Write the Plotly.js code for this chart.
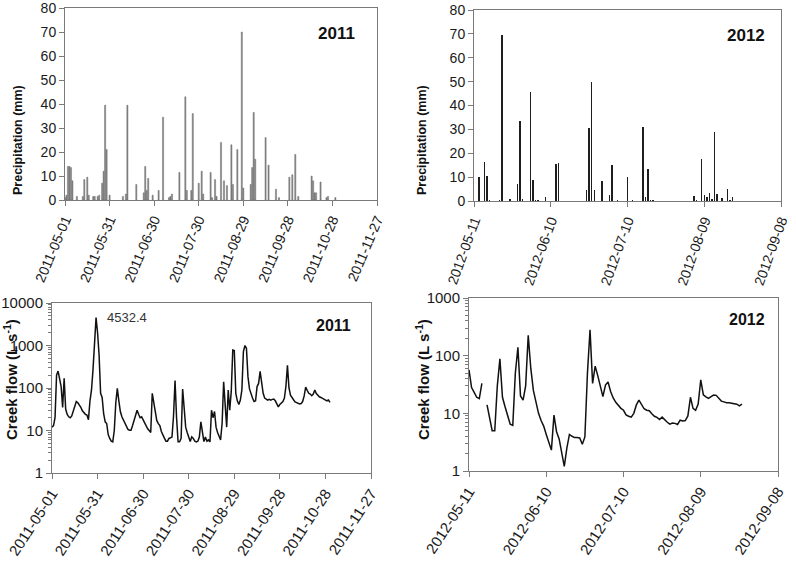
<!DOCTYPE html>
<html>
<head>
<meta charset="utf-8">
<script src="https://cdn.plot.ly/plotly-3.0.1.min.js"></script>
<style>
html,body{margin:0;padding:0;background:#fff;}
#chart{width:796px;height:566px;}
</style>
</head>
<body>
<div id="chart"></div>
<script>
// ---- Precipitation 2011 (mm) ----
const precip2011Dates = ['2011-05-01','2011-05-02','2011-05-03','2011-05-04','2011-05-05','2011-05-06','2011-05-09','2011-05-13','2011-05-14','2011-05-16',
  '2011-05-17','2011-05-20','2011-05-21','2011-05-23','2011-05-24','2011-05-26','2011-05-27','2011-05-28','2011-05-29','2011-05-31',
  '2011-06-09','2011-06-11','2011-06-12','2011-06-18','2011-06-23','2011-06-24','2011-06-25','2011-06-26','2011-06-29','2011-07-03',
  '2011-07-06','2011-07-10','2011-07-11','2011-07-12','2011-07-17','2011-07-21','2011-07-22','2011-07-25','2011-07-26','2011-07-30',
  '2011-08-01','2011-08-02','2011-08-07','2011-08-08','2011-08-10','2011-08-11','2011-08-14','2011-08-16','2011-08-18','2011-08-21',
  '2011-08-22','2011-08-25','2011-08-28','2011-08-29','2011-09-03','2011-09-04','2011-09-05','2011-09-06','2011-09-13','2011-09-15',
  '2011-09-20','2011-09-22','2011-09-29','2011-10-01','2011-10-03','2011-10-05','2011-10-14','2011-10-15','2011-10-16','2011-10-17',
  '2011-10-20','2011-10-24','2011-10-25','2011-10-30'];
const precip2011Values = [1,2,14,14,13.5,8,1.5,1.5,8.5,9.5,
  2,1.5,1.5,1.5,2,7,12,39.5,21,2,
  1.5,2.5,39.5,6.5,3,14,4,9,2,4,
  34.5,1,1.5,2.5,11.5,43,4,4,36,7,
  12,2.5,11.5,1,8.5,1.5,24,8,6,23,
  6.5,21,70,5,6.5,13.5,36.5,17,26,14.5,
  4.5,1,9.5,10.5,19,1.5,10,8,3,3,
  7.5,1,1.5,1];

// ---- Precipitation 2012 (mm) ----
const precip2012Dates = ['2012-05-13','2012-05-15','2012-05-16','2012-05-17','2012-05-21','2012-05-22','2012-05-25','2012-05-28','2012-05-29','2012-05-30',
  '2012-06-02','2012-06-03','2012-06-04','2012-06-05','2012-06-08','2012-06-12','2012-06-13','2012-06-24','2012-06-25','2012-06-26',
  '2012-06-27','2012-06-30','2012-07-03','2012-07-04','2012-07-06','2012-07-10','2012-07-12','2012-07-16','2012-07-17','2012-07-18',
  '2012-07-19','2012-07-20','2012-08-03','2012-08-04','2012-08-05','2012-08-06','2012-08-08','2012-08-09','2012-08-10','2012-08-11',
  '2012-08-12','2012-08-13','2012-08-14','2012-08-16','2012-08-18','2012-08-19','2012-08-20','2012-08-22','2012-08-23','2012-08-24',
  '2012-08-25'];
const precip2012Values = [10,16.5,10.5,0.5,0.5,69.5,1,7,33.5,1,
  45.5,9,0.5,0.5,1.8,15.5,16,4.5,30.5,49.8,
  4.5,8.5,2.5,15,0.3,10.2,0.5,31,1.8,13.5,
  0.5,0.3,0.2,0.2,2,0.5,17.8,2.7,1.8,3.5,
  1,29,3,1.3,5,0.5,1.5,0.2,0.2,0.2,
  0.2];

// ---- Creek flow 2011 (L/s), daily from 2011-05-01 ----
const flow2011Start = '2011-05-01';
const flow2011Values = [12,13,20,200,250,170,110,35,170,32,
  24,21,20,22,28,35,48,45,40,35,
  29,26,24,23,18,50,90,270,1000,4532.4,
  2000,600,75,60,25,16,14.6,8,6.5,5.6,
  5.4,10,45,98,50,28,21,17.5,16,12.2,
  10.6,10.2,10.2,13,17.5,23,30,24,20,21,
  17.5,15,12,11,10,9,75,45,23,17,
  14.5,13,9.5,7.5,6.6,5.6,5.6,6.5,6.8,7,
  22,150,20,5.4,5.4,6.5,95,40,12,9,
  7,5.5,7.1,6.5,5.6,5.4,5.6,7,16,9.3,
  5.5,7,5.6,6,5.4,30,20,28,12,9,
  7.5,6,15,140,40,12,90,30,82,780,
  760,75,50,41,52,90,720,1000,860,185,
  95,70,58,48,50,108,128,245,130,75,
  58,55,52,54,52,54,55,50,42,36,
  41,45,48,58,110,340,100,68,58,53,
  47,45,43,42,43,48,65,105,88,75,
  72,66,72,90,74,67,62,60,57,54,
  52,50,52,46];

// ---- Creek flow 2012 (L/s), daily from 2012-05-11 (null = no data) ----
const flow2012Start = '2012-05-11';
const flow2012Values = [57,28,23,19,18,33,null,14,8,5,
  5,30,88,19,13,9,6.5,6.2,50,140,
  20,17,30,225,60,25,16,10,7.5,6,
  4.3,3,2.3,9.3,4.8,3.6,1.9,1.2,2.5,4.3,
  4,3.8,3.8,3.75,2.9,3.9,50,280,33,66,
  45,28,19.5,31,35,24,18.5,15.5,13.5,12.2,
  11.3,9.4,8.9,8.6,10,14,17,14,12,11.3,
  11.1,9.8,8.9,8.5,7.8,8.6,7.6,7,6.5,6.8,
  6.7,6.4,7.6,7.4,7.5,9,19,12.2,11.3,14.5,
  38,21,19.3,18.2,19.5,20.8,20.5,18,16.3,15.8,
  15.3,15.3,15,14.8,14.4,13.5,14.5];

// ---- Tick labels ----
const ticks2011 = ['2011-05-01','2011-05-31','2011-06-30','2011-07-30','2011-08-29','2011-09-28','2011-10-28','2011-11-27'];
const ticks2012 = ['2012-05-11','2012-06-10','2012-07-10','2012-08-09','2012-09-08'];
const logTicks4 = [1,10,100,1000,10000];
const logTicks3 = [1,10,100,1000];

const DAY = 86400000;
const W = 796, H = 566;
const px = v => v / W;
const py = v => 1 - v / H;

const axisColor = '#7a7a7a';
const tickFont = {family:'Liberation Sans, Arial, sans-serif', size:14, color:'#1a1a1a'};
const tickFontB = {family:'Liberation Sans, Arial, sans-serif', size:15, color:'#1a1a1a'};

function xAxis(dom, ticks, anchor, angle, font) {
  return {domain: dom, anchor: anchor, type:'date', range:[ticks[0], ticks[ticks.length-1]], autorange:false,
    tickvals: ticks, ticktext: ticks, tickangle: angle, tickfont: font, ticklabeloverflow:'allow',
    showline:true, mirror:true, linecolor:axisColor, linewidth:1,
    ticks:'outside', ticklen:5, tickcolor:axisColor, showgrid:false, zeroline:false, fixedrange:true};
}
function linY(dom, anchor) {
  return {domain: dom, anchor: anchor, range:[0,80], autorange:false, dtick:10, tick0:0, tickfont: tickFont, ticklabeloverflow:'allow',
    showline:true, mirror:true, linecolor:axisColor, ticks:'outside', ticklen:5, tickcolor:axisColor,
    showgrid:false, zeroline:false, fixedrange:true};
}
function logY(dom, anchor, top, vals) {
  return {domain: dom, anchor: anchor, type:'log', range:[0,top], autorange:false,
    tickvals: vals, ticktext: vals.map(String), tickfont: tickFontB, ticklabeloverflow:'allow',
    showline:true, mirror:true, linecolor:axisColor, ticks:'outside', ticklen:5, tickcolor:axisColor,
    minor:{ticks:'outside', ticklen:3, tickcolor:axisColor, dtick:'D1', showgrid:false},
    showgrid:false, zeroline:false, fixedrange:true};
}

const data = [
  {type:'bar', x: precip2011Dates, y: precip2011Values, xaxis:'x', yaxis:'y',
   width: 0.8*DAY, marker:{color:'#8c8c8c', line:{color:'#5a5a5a', width:0.4}}, showlegend:false},
  {type:'bar', x: precip2012Dates, y: precip2012Values, xaxis:'x2', yaxis:'y2',
   width: 0.55*DAY, marker:{color:'#1e1e1e', line:{width:0}}, showlegend:false},
  {type:'scatter', mode:'lines', x0: flow2011Start, dx: DAY, y: flow2011Values, xaxis:'x3', yaxis:'y3',
   line:{color:'#111', width:1.5}, connectgaps:false, showlegend:false},
  {type:'scatter', mode:'lines', x0: flow2012Start, dx: DAY, y: flow2012Values, xaxis:'x4', yaxis:'y4',
   line:{color:'#111', width:1.5}, connectgaps:false, showlegend:false}
];

const titleFontP = {family:'Liberation Sans Narrow, Arial Narrow, Liberation Sans, Arial, sans-serif', size:12.5, color:'#111', weight:'bold'};
const titleFontC = {family:'Liberation Sans, Arial, sans-serif', size:15, color:'#111', weight:'bold'};
const yearFont = {family:'Liberation Sans, Arial, sans-serif', size:17, color:'#111', weight:'bold'};

function note(text, x, y, font, angle) {
  return {text: text, xref:'paper', yref:'paper', x: px(x), y: py(y), xanchor:'center', yanchor:'middle',
    textangle: angle || 0, showarrow:false, font: font};
}

const layout = {
  width: W, height: H,
  margin:{l:0, r:0, t:0, b:0, autoexpand:false},
  paper_bgcolor:'#fff', plot_bgcolor:'#fff',
  bargap:0,
  showlegend:false,
  xaxis: xAxis([px(65), px(377)], ticks2011, 'y', -67, tickFont),
  yaxis: linY([py(200), py(8)], 'x'),
  xaxis2: xAxis([px(474), px(781)], ticks2012, 'y2', -70, tickFont),
  yaxis2: linY([py(201), py(10)], 'x2'),
  xaxis3: xAxis([px(52), px(371)], ticks2011, 'y3', -57, tickFontB),
  yaxis3: logY([py(473), py(303)], 'x3', 4, logTicks4),
  xaxis4: xAxis([px(469), px(778)], ticks2012, 'y4', -57, tickFontB),
  yaxis4: logY([py(471), py(298)], 'x4', 3, logTicks3),
  annotations: [
    note('2011', 336, 34, yearFont),
    note('2012', 746, 35, yearFont),
    note('2011', 333, 325, Object.assign({}, yearFont, {size:16})),
    note('2012', 747, 319, Object.assign({}, yearFont, {size:16})),
    note('4532.4', 127, 317, {family:'Liberation Sans, Arial, sans-serif', size:13, color:'#333'}),
    note('Precipitation (mm)', 18, 140, titleFontP, -90),
    note('Precipitation (mm)', 422, 140, titleFontP, -90),
    note('Creek flow (L s<sup>-1</sup>)', 10, 380, titleFontC, -90),
    note('Creek flow (L s<sup>-1</sup>)', 422, 380, titleFontC, -90)
  ]
};

Plotly.newPlot('chart', data, layout, {displayModeBar:false, staticPlot:true});
</script>
</body>
</html>
